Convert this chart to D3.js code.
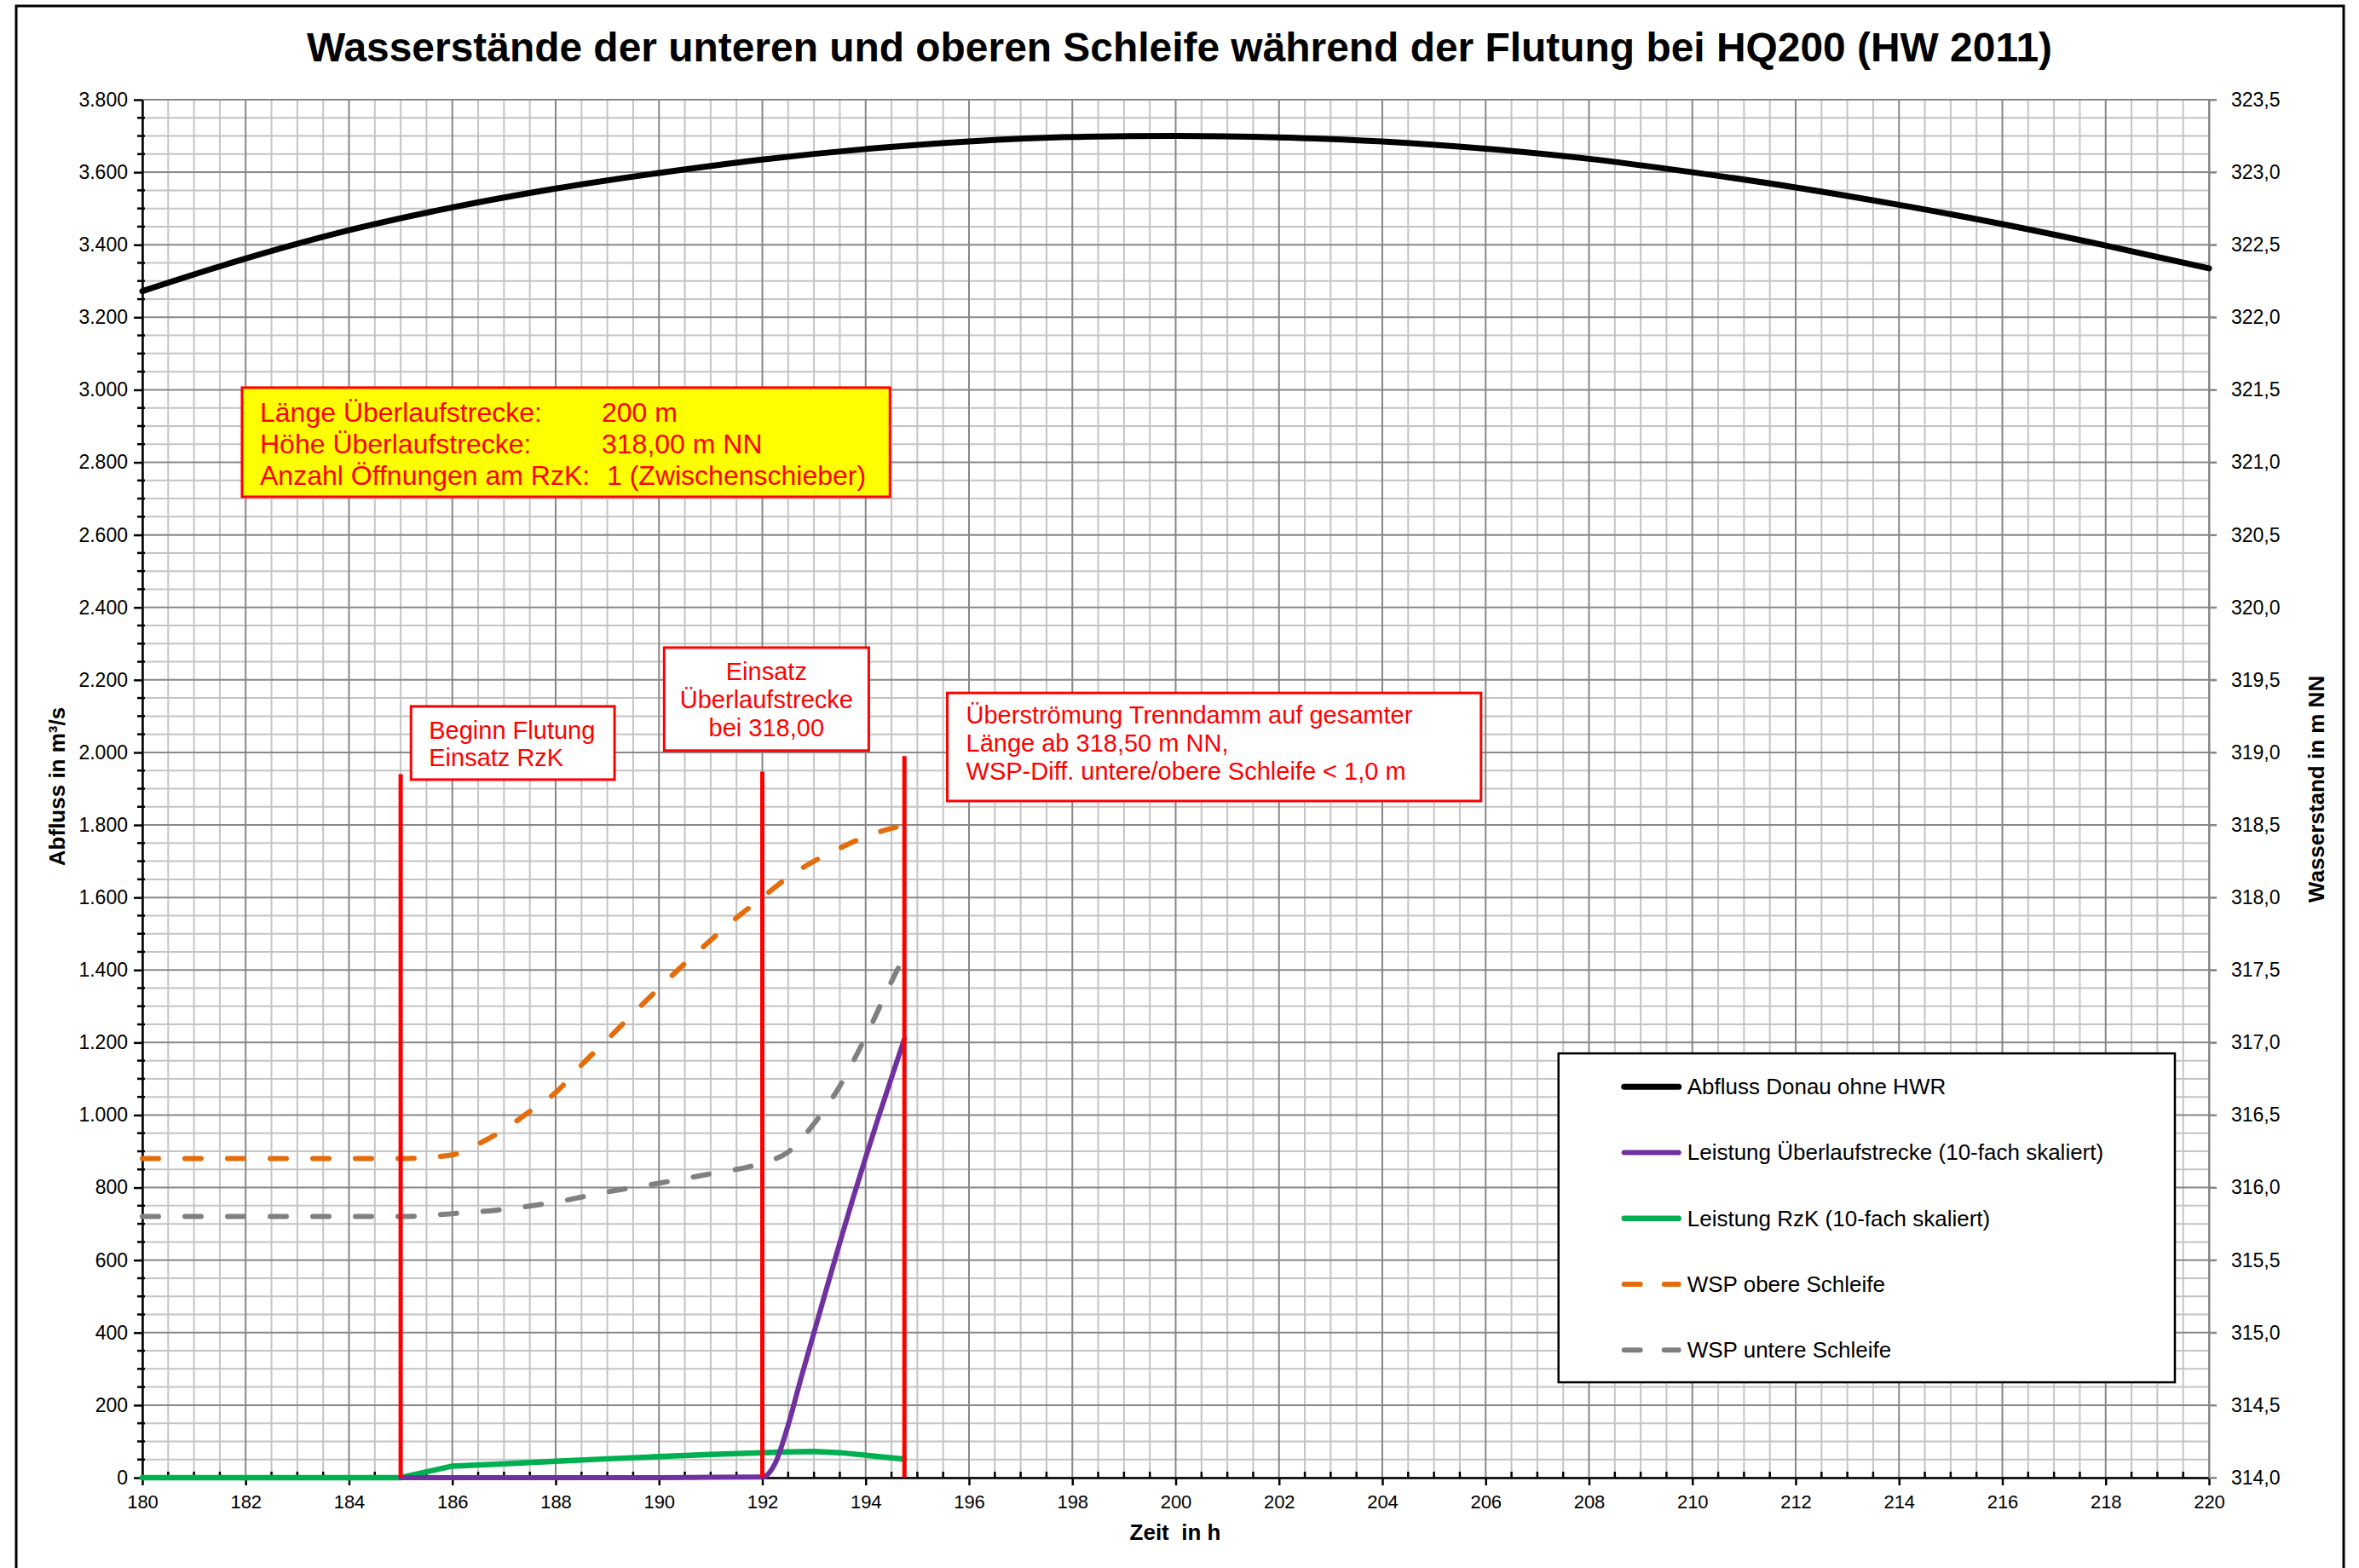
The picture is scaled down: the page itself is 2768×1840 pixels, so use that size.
<!DOCTYPE html>
<html><head><meta charset="utf-8">
<script src="https://cdn.jsdelivr.net/npm/d3@7"></script>
<style>
html,body{margin:0;padding:0;background:#fff;}
svg{display:block;}
text{font-family:"Liberation Sans",Arial,sans-serif;}
</style></head><body>
<svg id="chart" width="2768" height="1840"></svg>
<script>
// ---------------- DATA ----------------
const titleText = "Wasserstände der unteren und oberen Schleife während der Flutung bei HQ200 (HW 2011)";
const xTicks = [180,182,184,186,188,190,192,194,196,198,200,202,204,206,208,210,212,214,216,218,220];
const yLeftTicks = [0,200,400,600,800,1000,1200,1400,1600,1800,2000,2200,2400,2600,2800,3000,3200,3400,3600,3800];
const yRightTicks = [314.0,314.5,315.0,315.5,316.0,316.5,317.0,317.5,318.0,318.5,319.0,319.5,320.0,320.5,321.0,321.5,322.0,322.5,323.0,323.5];

// Abfluss Donau ohne HWR (left axis, m³/s)
const abflussHours  = [180,182,184,186,188,190,192,194,196,198,200,202,204,206,208,210,212,214,216,218,220];
const abflussValues = [3272,3362,3440,3503,3555,3598,3635,3664,3685,3697,3700,3696,3685,3665,3637,3600,3558,3510,3457,3398,3335];

// Leistung Überlaufstrecke (10-fach skaliert) (left axis)
const ueberlaufHours  = [185,186,187,188,189,190,191,192,192.25,192.5,192.75,193,193.25,193.5,193.75,194,194.25,194.5,194.75];
const ueberlaufValues = [0,0,0,0,0,0,1,2,40,145,275,400,525,648,768,883,995,1103,1210];

// Leistung RzK (10-fach skaliert) (left axis)
const rzkHours  = [180,181,182,183,184,185,186,187,188,189,190,191,192,192.5,193,193.5,194,194.75];
const rzkValues = [0,0,0,0,0,0,32,38,45,52,58,64,69,71,72,69,62,51];

// WSP obere Schleife (right axis, m NN)
const obereHours  = [180,181,182,183,184,185,186,186.5,187,187.5,188,188.5,189,189.5,190,190.5,191,191.5,192,192.5,193,193.5,194,194.75];
const obereValues = [316.20,316.20,316.20,316.20,316.20,316.20,316.225,316.30,316.40,316.525,316.655,316.845,317.02,317.20,317.375,317.545,317.705,317.86,318.00,318.14,318.25,318.34,318.42,318.50];

// WSP untere Schleife (right axis, m NN)
const untereHours  = [180,181,182,183,184,185,186,187,188,189,190,191,192,192.5,193,193.5,194,194.5,194.75];
const untereValues = [315.80,315.80,315.80,315.80,315.80,315.80,315.82,315.85,315.90,315.97,316.03,316.095,316.17,316.245,316.44,316.70,317.04,317.42,317.60];

// Event markers (hour, top in m³/s)
const markerHours = [185, 192, 194.75];
const markerTops  = [1940, 1947, 1990];

const legendLabels = ["Abfluss Donau ohne HWR","Leistung Überlaufstrecke (10-fach skaliert)","Leistung RzK (10-fach skaliert)","WSP obere Schleife","WSP untere Schleife"];

const infoLabels = ["Länge Überlaufstrecke:","Höhe Überlaufstrecke:","Anzahl Öffnungen am RzK:"];
const infoValues = ["200 m","318,00 m NN","1 (Zwischenschieber)"];
const note1Lines = ["Beginn Flutung","Einsatz RzK"];
const note2Lines = ["Einsatz","Überlaufstrecke","bei 318,00"];
const note3Lines = ["Überströmung Trenndamm auf gesamter","Länge ab 318,50 m NN,","WSP-Diff. untere/obere Schleife < 1,0 m"];

// ---------------- LAYOUT ----------------
const svg = d3.select("#chart");
const P = {left:167, right:2592, top:117, bottom:1734};
const x  = d3.scaleLinear().domain([180,220]).range([P.left,P.right]);
const yL = d3.scaleLinear().domain([0,3800]).range([P.bottom,P.top]);
const yR = d3.scaleLinear().domain([314,323.5]).range([P.bottom,P.top]);

const loc = d3.formatLocale({decimal:",", thousands:".", grouping:[3], currency:["","€"]});
const fmtL = loc.format(",");
const fmtR = loc.format(".1f");

const RED = "#FF0000";

// outer frame
svg.append("rect").attr("x",19).attr("y",7).attr("width",2731).attr("height",1850)
  .attr("fill","#fff").attr("stroke","#000").attr("stroke-width",3);

// grid
const g = svg.append("g");
const minorX = d3.range(180,220.001,0.5).filter(v=>Math.abs(v%2)>1e-6);
const majorX = d3.range(180,220.001,2);
const minorY = d3.range(0,3800.1,50).filter(v=>v%200!==0);
const majorY = d3.range(0,3800.1,200);
g.selectAll(".mx").data(minorX).join("line").attr("x1",d=>x(d)).attr("x2",d=>x(d))
  .attr("y1",P.top).attr("y2",P.bottom).attr("stroke","#c4c4c4").attr("stroke-width",2);
g.selectAll(".my").data(minorY).join("line").attr("y1",d=>yL(d)).attr("y2",d=>yL(d))
  .attr("x1",P.left).attr("x2",P.right).attr("stroke","#c4c4c4").attr("stroke-width",2);
g.selectAll(".Mx").data(majorX).join("line").attr("x1",d=>x(d)).attr("x2",d=>x(d))
  .attr("y1",P.top).attr("y2",P.bottom).attr("stroke","#878787").attr("stroke-width",2);
g.selectAll(".My").data(majorY).join("line").attr("y1",d=>yL(d)).attr("y2",d=>yL(d))
  .attr("x1",P.left).attr("x2",P.right+9).attr("stroke","#878787").attr("stroke-width",2);

// left axis
const axL = svg.append("g").attr("transform",`translate(${P.left},0)`)
  .call(d3.axisLeft(yL).tickValues(yLeftTicks).tickSize(10).tickSizeOuter(0).tickPadding(7).tickFormat(fmtL));
axL.selectAll("text").attr("font-size",23).attr("fill","#000").attr("font-family","'Liberation Sans',Arial,sans-serif");
axL.selectAll("line,path").attr("stroke","#000").attr("stroke-width",2.5);
svg.append("g").selectAll("line").data(minorY).join("line")
  .attr("x1",P.left-6).attr("x2",P.left+3).attr("y1",d=>yL(d)).attr("y2",d=>yL(d))
  .attr("stroke","#000").attr("stroke-width",2.5);

// bottom axis
const axB = svg.append("g").attr("transform",`translate(0,${P.bottom})`)
  .call(d3.axisBottom(x).tickValues(xTicks).tickSize(9).tickSizeOuter(0).tickPadding(11).tickFormat(d3.format("d")));
axB.selectAll("text").attr("font-size",22).attr("fill","#000").attr("font-family","'Liberation Sans',Arial,sans-serif");
axB.selectAll("line,path").attr("stroke","#000").attr("stroke-width",2.5);
svg.append("g").selectAll("line").data(minorX).join("line")
  .attr("x1",d=>x(d)).attr("x2",d=>x(d)).attr("y1",P.bottom-7).attr("y2",P.bottom)
  .attr("stroke","#000").attr("stroke-width",2.5);

// right axis
const axR = svg.append("g").attr("transform",`translate(${P.right},0)`)
  .call(d3.axisRight(yR).tickValues(yRightTicks).tickSize(9).tickSizeOuter(0).tickPadding(17).tickFormat(fmtR));
axR.select(".domain").attr("stroke","#878787").attr("stroke-width",2);
axR.selectAll("line").attr("stroke","#878787").attr("stroke-width",2);
axR.selectAll("text").attr("font-size",23).attr("fill","#000").attr("font-family","'Open Sans','Noto Sans',sans-serif");

// axis titles
svg.append("text").attr("transform","translate(76,923) rotate(-90)").attr("text-anchor","middle")
  .attr("font-size",26).attr("font-weight","bold").text("Abfluss in m³/s");
svg.append("text").attr("transform","translate(2727,926) rotate(-90)").attr("text-anchor","middle")
  .attr("font-size",26).attr("font-weight","bold").text("Wasserstand in m NN");
svg.append("text").attr("x",1379).attr("y",1807).attr("text-anchor","middle")
  .attr("font-size",26).attr("font-weight","bold").attr("xml:space","preserve").text("Zeit  in h");

// title
const title = svg.append("text").attr("x",1384).attr("y",72).attr("text-anchor","middle")
  .attr("font-size",46).attr("font-weight","bold").text(titleText);
const tl = title.node().getComputedTextLength();
title.attr("font-size", 46*2049/tl);

// ---------------- SERIES ----------------
const lineL = (curve)=>d3.line().x(d=>x(d[0])).y(d=>yL(d[1])).curve(curve);
const lineR = (curve)=>d3.line().x(d=>x(d[0])).y(d=>yR(d[1])).curve(curve);
const zip = (a,b)=>a.map((v,i)=>[v,b[i]]);

const series = svg.append("g").attr("fill","none").attr("stroke-linecap","round").attr("stroke-linejoin","round");
series.append("path").attr("d",lineL(d3.curveMonotoneX)(zip(abflussHours,abflussValues)))
  .attr("stroke","#000").attr("stroke-width",7);
series.append("path").attr("d",lineL(d3.curveLinear)(zip(rzkHours,rzkValues)))
  .attr("stroke","#00B050").attr("stroke-width",6.5);
series.append("path").attr("d",lineL(d3.curveMonotoneX)(zip(ueberlaufHours,ueberlaufValues)))
  .attr("stroke","#7030A0").attr("stroke-width",6);
series.append("path").attr("d",lineR(d3.curveMonotoneX)(zip(obereHours,obereValues)))
  .attr("stroke","#E46C0A").attr("stroke-width",6).attr("stroke-dasharray","19,31");
series.append("path").attr("d",lineR(d3.curveMonotoneX)(zip(untereHours,untereValues)))
  .attr("stroke","#808080").attr("stroke-width",6).attr("stroke-dasharray","19,31");

// red marker lines
svg.append("g").selectAll("line").data(zip(markerHours,markerTops)).join("line")
  .attr("x1",d=>x(d[0])).attr("x2",d=>x(d[0])).attr("y1",yL(0)).attr("y2",d=>yL(d[1]))
  .attr("stroke",RED).attr("stroke-width",5);

// ---------------- ANNOTATIONS ----------------
function box(h0,h1,v0,v1,fill){
  const bx = x(h0), by = yL(v0), bw = x(h1)-x(h0), bh = yL(v1)-yL(v0);
  svg.append("rect").attr("x",bx).attr("y",by).attr("width",bw).attr("height",bh)
    .attr("fill",fill).attr("stroke",RED).attr("stroke-width",3);
  return {bx,by,bw,bh};
}
// yellow info box
{
  const b = box(181.93,194.47,3006,2705,"#FFFF00");
  infoLabels.forEach((t,i)=>{
    svg.append("text").attr("x",b.bx+21).attr("y",b.by+40+i*37).attr("font-size",32).attr("fill",RED).text(t);
    svg.append("text").attr("x",b.bx+(i===2?428:422)).attr("y",b.by+40+i*37).attr("font-size",32).attr("fill",RED).text(infoValues[i]);
  });
}
// note 1
{
  const b = box(185.2,189.14,2127,1925,"#fff");
  note1Lines.forEach((t,i)=>svg.append("text").attr("x",b.bx+21).attr("y",b.by+38+i*32)
    .attr("font-size",29).attr("fill",RED).text(t));
}
// note 2
{
  const b = box(190.1,194.06,2289,2005,"#fff");
  note2Lines.forEach((t,i)=>svg.append("text").attr("x",b.bx+b.bw/2).attr("y",b.by+38+i*33)
    .attr("text-anchor","middle").attr("font-size",29).attr("fill",RED).text(t));
}
// note 3
{
  const b = box(195.58,205.91,2164,1866,"#fff");
  note3Lines.forEach((t,i)=>svg.append("text").attr("x",b.bx+22).attr("y",b.by+36+i*33)
    .attr("font-size",29).attr("fill",RED).text(t));
}

// ---------------- LEGEND ----------------
{
  const lx = x(207.41), ly = yL(1170), lw = x(219.34)-x(207.41), lh = yL(263)-yL(1170);
  svg.append("rect").attr("x",lx).attr("y",ly).attr("width",lw).attr("height",lh)
    .attr("fill","#fff").attr("stroke","#000").attr("stroke-width",2.5);
  const styles = [
    {c:"#000",w:7,d:null},{c:"#7030A0",w:6,d:null},{c:"#00B050",w:6.5,d:null},
    {c:"#E46C0A",w:6,d:"19,28"},{c:"#808080",w:6,d:"19,28"}];
  legendLabels.forEach((t,i)=>{
    const cy = ly+39+i*77.3;
    const ln = svg.append("line").attr("x1",lx+77).attr("x2",lx+141).attr("y1",cy).attr("y2",cy)
      .attr("stroke",styles[i].c).attr("stroke-width",styles[i].w).attr("stroke-linecap","round");
    if(styles[i].d) ln.attr("stroke-dasharray",styles[i].d);
    svg.append("text").attr("x",lx+151).attr("y",cy+9).attr("font-size",26).attr("fill","#000").text(t);
  });
}
</script>
</body></html>
